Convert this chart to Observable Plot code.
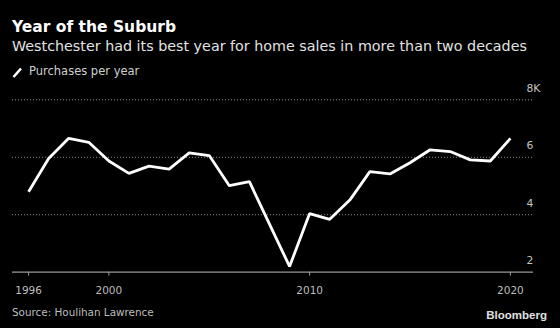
<!DOCTYPE html>
<html>
<head>
<meta charset="utf-8">
<script src="https://cdn.jsdelivr.net/npm/d3@7"></script>
<script src="https://cdn.jsdelivr.net/npm/@observablehq/plot@0.6"></script>
<style>
  html, body { margin: 0; padding: 0; background: #000; }
  #wrap { position: relative; width: 560px; height: 328px; overflow: hidden; background: #000; font-family: "DejaVu Sans", sans-serif; }
  #wrap svg { position: absolute; left: 0; top: 0; }
  .t { position: absolute; line-height: 1; white-space: nowrap; }
  #title { left: 12px; top: 19.6px; font-size: 15.5px; font-weight: bold; color: #fff; }
  #subtitle { left: 12px; top: 38.6px; font-size: 14.3px; color: #e2e2e2; }
  #legend { left: 29px; top: 66px; font-size: 11.5px; color: #cfcfcf; }
  #source { left: 12px; top: 307.2px; font-size: 10.4px; color: #bdbdbd; }
  #logo { right: 13px; top: 310.3px; font-size: 11.5px; font-weight: bold; color: #e0e0e0; font-family: "Liberation Sans", Arial, sans-serif; }
  #icon { position: absolute; left: 0; top: 0; }
</style>
</head>
<body>
<div id="wrap"></div>
<script>
// Data (purchases per year, thousands)
const years = [1996, 1997, 1998, 1999, 2000, 2001, 2002, 2003, 2004, 2005, 2006, 2007, 2008,
               2009, 2010, 2011, 2012, 2013, 2014, 2015, 2016, 2017, 2018, 2019, 2020];
const purchases = [4.80, 5.96, 6.66, 6.52, 5.87, 5.44, 5.69, 5.59, 6.15, 6.06, 5.01, 5.15, 3.67,
                   2.20, 4.04, 3.84, 4.51, 5.50, 5.42, 5.81, 6.26, 6.20, 5.91, 5.87, 6.66];
const xTicks = [1996, 2000, 2010, 2020];
const yTicks = [2, 4, 6, 8];
const gridValues = [4, 6, 8];
const titleText = "Year of the Suburb";
const subtitleText = "Westchester had its best year for home sales in more than two decades";
const legendText = "Purchases per year";
const sourceText = "Source: Houlihan Lawrence";
const logoText = "Bloomberg";

const data = years.map((y, i) => ({year: y, value: purchases[i]}));

const chart = Plot.plot({
  width: 560,
  height: 328,
  marginTop: 99.3,
  marginBottom: 56.3,
  marginLeft: 12,
  marginRight: 27,
  style: {background: "transparent", fontFamily: "DejaVu Sans, sans-serif", fontSize: "10.5px"},
  x: {domain: [1995.2, 2021.15]},
  y: {domain: [2, 8]},
  marks: [
    Plot.ruleY(gridValues, {stroke: "#8c8c8c", strokeWidth: 1, strokeDasharray: "1,2"}),
    Plot.ruleY([2], {stroke: "#9a9a9a", strokeWidth: 1.2}),
    Plot.axisX({
      ticks: xTicks, tickFormat: d => String(d), tickSize: 4, tickPadding: 10,
      stroke: "#9a9a9a", fill: "#bdbdbd", fontSize: 10.5, label: null
    }),
    Plot.axisY({
      anchor: "right", ticks: yTicks, tickFormat: d => d === 8 ? "8K" : String(d),
      tickSize: 0, tickPadding: 0, dx: -7, dy: -11.4, textAnchor: "start",
      fill: "#c4c4c4", fontSize: 10.8, label: null
    }),
    Plot.line(data, {x: "year", y: "value", stroke: "#fff", strokeWidth: 2.8, strokeLinejoin: "miter", strokeLinecap: "butt"})
  ]
});

const wrap = document.getElementById("wrap");
wrap.appendChild(chart);

function addText(id, txt) {
  const d = document.createElement("div");
  d.className = "t"; d.id = id; d.textContent = txt;
  wrap.appendChild(d);
}
addText("title", titleText);
addText("subtitle", subtitleText);
addText("legend", legendText);
addText("source", sourceText);
addText("logo", logoText);

// legend swatch
const ns = "http://www.w3.org/2000/svg";
const icon = document.createElementNS(ns, "svg");
icon.setAttribute("id", "icon");
icon.setAttribute("width", "560");
icon.setAttribute("height", "100");
const ln = document.createElementNS(ns, "line");
ln.setAttribute("x1", "13.5"); ln.setAttribute("y1", "77");
ln.setAttribute("x2", "21"); ln.setAttribute("y2", "68.5");
ln.setAttribute("stroke", "#fff"); ln.setAttribute("stroke-width", "2.6");
icon.appendChild(ln);
wrap.appendChild(icon);
</script>
</body>
</html>
